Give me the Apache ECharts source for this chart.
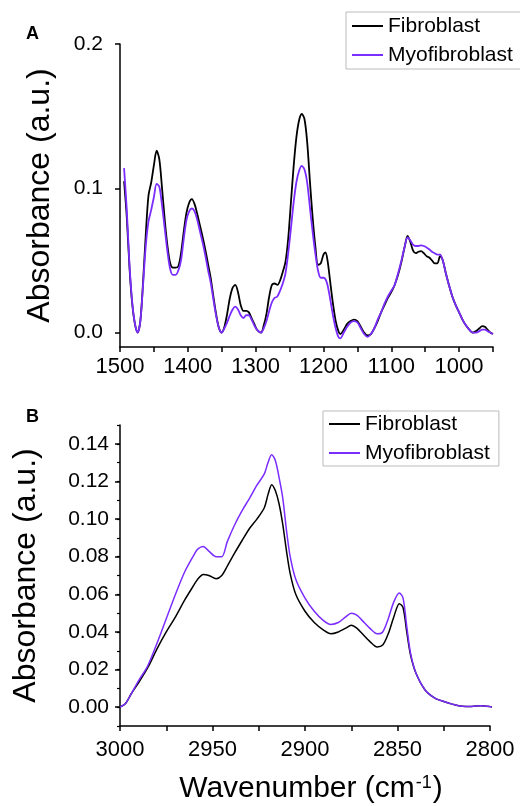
<!DOCTYPE html>
<html>
<head>
<meta charset="utf-8">
<script src="https://cdn.jsdelivr.net/npm/echarts@6/dist/echarts.min.js"></script>
<style>
  html, body { margin: 0; padding: 0; background: #fff; }
  #chart { width: 520px; height: 806px; }
</style>
</head>
<body>
<div id="chart"></div>
<script>
// panel A: fingerprint region
var wavenumberA = [1494, 1490, 1486, 1482, 1478, 1474, 1470, 1466, 1462, 1458, 1454, 1450, 1446, 1442, 1438, 1434, 1430, 1426, 1422, 1418, 1414, 1410, 1406, 1402, 1398, 1394, 1390, 1386, 1382, 1378, 1374, 1370, 1366, 1362, 1358, 1354, 1350, 1346, 1342, 1338, 1334, 1330, 1326, 1322, 1318, 1314, 1310, 1306, 1302, 1298, 1292, 1288, 1284, 1280, 1276, 1272, 1268, 1264, 1260, 1256, 1252, 1248, 1244, 1240, 1236, 1232, 1228, 1224, 1220, 1216, 1212, 1208, 1204, 1200, 1197, 1194, 1190, 1186, 1182, 1178, 1175, 1170, 1165, 1160, 1155, 1150, 1145, 1140, 1135, 1130, 1125, 1120, 1115, 1110, 1105, 1100, 1095, 1090, 1085, 1080, 1076, 1072, 1068, 1064, 1060, 1056, 1052, 1048, 1044, 1040, 1036, 1032, 1028, 1024, 1020, 1015, 1010, 1005, 1000, 995, 990, 985, 980, 975, 970, 966, 962, 958, 954, 950];
var fibroA = [0.105, 0.080, 0.045, 0.020, 0.006, 0.000, 0.008, 0.035, 0.068, 0.095, 0.104, 0.116, 0.126, 0.120, 0.100, 0.078, 0.060, 0.048, 0.045, 0.045, 0.046, 0.055, 0.070, 0.083, 0.090, 0.0925, 0.089, 0.082, 0.074, 0.066, 0.057, 0.047, 0.037, 0.024, 0.012, 0.003, 0.000, 0.004, 0.013, 0.024, 0.031, 0.033, 0.028, 0.019, 0.015, 0.015, 0.014, 0.010, 0.006, 0.002, 0.000, 0.005, 0.013, 0.025, 0.033, 0.034, 0.033, 0.036, 0.042, 0.049, 0.065, 0.090, 0.115, 0.135, 0.147, 0.1515, 0.148, 0.132, 0.105, 0.080, 0.060, 0.047, 0.048, 0.054, 0.0555, 0.050, 0.035, 0.020, 0.008, 0.001, -0.001, 0.002, 0.006, 0.008, 0.009, 0.008, 0.004, 0.000, -0.002, -0.001, 0.003, 0.008, 0.014, 0.019, 0.024, 0.028, 0.033, 0.040, 0.049, 0.060, 0.067, 0.063, 0.057, 0.055, 0.056, 0.0565, 0.055, 0.053, 0.052, 0.050, 0.048, 0.048, 0.053, 0.050, 0.042, 0.033, 0.025, 0.019, 0.014, 0.009, 0.005, 0.002, 0.000, 0.001, 0.003, 0.0044, 0.004, 0.002, 0.000, -0.001];
var myoA = [0.114, 0.085, 0.047, 0.021, 0.006, 0.000, 0.008, 0.033, 0.060, 0.077, 0.085, 0.094, 0.103, 0.101, 0.088, 0.072, 0.056, 0.044, 0.040, 0.040, 0.043, 0.050, 0.065, 0.078, 0.084, 0.086, 0.084, 0.078, 0.070, 0.062, 0.053, 0.043, 0.034, 0.022, 0.011, 0.003, 0.000, 0.003, 0.007, 0.012, 0.016, 0.018, 0.016, 0.012, 0.010, 0.012, 0.012, 0.009, 0.005, 0.002, 0.000, 0.003, 0.008, 0.015, 0.021, 0.024, 0.025, 0.029, 0.034, 0.041, 0.055, 0.072, 0.090, 0.104, 0.112, 0.1155, 0.113, 0.104, 0.087, 0.070, 0.055, 0.043, 0.038, 0.038, 0.037, 0.033, 0.023, 0.012, 0.003, -0.003, -0.004, 0.000, 0.004, 0.007, 0.008, 0.007, 0.003, -0.001, -0.003, -0.001, 0.003, 0.009, 0.014, 0.020, 0.025, 0.029, 0.033, 0.041, 0.050, 0.060, 0.066, 0.064, 0.061, 0.060, 0.060, 0.0605, 0.060, 0.059, 0.0577, 0.056, 0.055, 0.054, 0.054, 0.050, 0.042, 0.033, 0.025, 0.019, 0.014, 0.009, 0.005, 0.002, 0.000, 0.000, 0.001, 0.002, 0.002, 0.001, 0.000, -0.001];

// panel B: C-H stretching region
var wavenumberB = [3000, 2997, 2994, 2990, 2985, 2980, 2975, 2970, 2965, 2960, 2958, 2955, 2952, 2948, 2945, 2942, 2938, 2934, 2930, 2926, 2922, 2920, 2918, 2916, 2914, 2912, 2910, 2908, 2905, 2900, 2895, 2890, 2886, 2882, 2878, 2875, 2872, 2869, 2865, 2861, 2858, 2855, 2852, 2849, 2847, 2845, 2843, 2840, 2835, 2830, 2825, 2820, 2815, 2810, 2805, 2800, 2797];
var fibroB = [0, 0.002, 0.007, 0.013, 0.021, 0.031, 0.040, 0.048, 0.057, 0.065, 0.068, 0.0705, 0.070, 0.0683, 0.070, 0.075, 0.082, 0.0886, 0.095, 0.100, 0.106, 0.113, 0.1183, 0.115, 0.108, 0.097, 0.083, 0.071, 0.060, 0.051, 0.045, 0.041, 0.039, 0.040, 0.042, 0.0435, 0.042, 0.039, 0.035, 0.032, 0.033, 0.039, 0.048, 0.055, 0.053, 0.040, 0.028, 0.018, 0.009, 0.005, 0.003, 0.0015, 0.0005, 0.0004, 0.0008, 0.0003, -0.0003];
var myoB = [0, 0.002, 0.007, 0.014, 0.022, 0.034, 0.047, 0.060, 0.072, 0.081, 0.084, 0.0854, 0.083, 0.080, 0.080, 0.088, 0.097, 0.1045, 0.111, 0.118, 0.124, 0.130, 0.1342, 0.131, 0.122, 0.111, 0.094, 0.080, 0.068, 0.058, 0.051, 0.046, 0.044, 0.045, 0.048, 0.050, 0.049, 0.046, 0.042, 0.039, 0.040, 0.047, 0.056, 0.0607, 0.058, 0.043, 0.029, 0.018, 0.009, 0.005, 0.003, 0.0015, 0.0005, 0.0004, 0.0008, 0.0003, -0.0003];

var ticksAy = [0, 0.1, 0.2];
var ticksBy = [0, 0.02, 0.04, 0.06, 0.08, 0.10, 0.12, 0.14];
var seriesNames = ['Fibroblast', 'Myofibroblast'];

var FONT = 'Liberation Sans, Arial, sans-serif';
var BLACK = '#000000';
var PURPLE = '#7b2cff';

function pairs(xs, ys) {
    return xs.map(function (x, i) { return [x, ys[i]]; });
}

var axisLine = { onZero: false, lineStyle: { color: '#000', width: 1.5 } };
var axisTick = { inside: false, length: 5, lineStyle: { color: '#000', width: 1.5 } };

var chart = echarts.init(document.getElementById('chart'), null, { renderer: 'canvas' });

chart.setOption({
    backgroundColor: '#fff',
    animation: false,
    graphic: [
        { type: 'text', left: 26, top: 25, style: { text: 'A', fontFamily: FONT, fontWeight: 'bold', fontSize: 18, fill: '#000' } },
        { type: 'text', left: 26, top: 408, style: { text: 'B', fontFamily: FONT, fontWeight: 'bold', fontSize: 18, fill: '#000' } }
    ],
    legend: [
        {
            data: seriesNames, orient: 'vertical', left: 346, top: 12,
            padding: [2, 12, 2, 6], itemGap: 5, itemWidth: 31, itemHeight: 2, icon: 'rect',
            borderColor: '#bbb', borderWidth: 1,
            textStyle: { fontFamily: FONT, fontSize: 21, color: '#000', lineHeight: 24 }
        },
        {
            data: seriesNames, orient: 'vertical', left: 323, top: 411,
            padding: [1, 9, 1, 6], itemGap: 5, itemWidth: 31, itemHeight: 2, icon: 'rect',
            borderColor: '#bbb', borderWidth: 1,
            textStyle: { fontFamily: FONT, fontSize: 21, color: '#000', lineHeight: 24 }
        }
    ],
    grid: [
        { left: 120, top: 44, width: 373, height: 303, outerBoundsMode: 'none' },
        { left: 120, top: 425, width: 370, height: 301, outerBoundsMode: 'none' }
    ],
    xAxis: [
        {
            type: 'value', gridIndex: 0, inverse: true, min: 950, max: 1500, interval: 50,
            axisLine: axisLine, axisTick: axisTick, splitLine: { show: false },
            axisLabel: {
                margin: 9, fontFamily: FONT, fontSize: 22, color: '#000',
                formatter: function (v) { return v % 100 === 0 ? String(v) : ''; }
            }
        },
        {
            type: 'value', gridIndex: 1, inverse: true, min: 2800, max: 3000, interval: 25,
            axisLine: axisLine, axisTick: axisTick, splitLine: { show: false },
            axisLabel: {
                margin: 13, fontFamily: FONT, fontSize: 22, color: '#000',
                formatter: function (v) { return v % 50 === 0 ? String(v) : ''; }
            },
            name: 'Wavenumber (cm{sup|-1})', nameLocation: 'middle', nameGap: 48,
            nameTextStyle: {
                fontFamily: FONT, fontSize: 30, color: '#000', padding: [0, 0, 0, 12],
                rich: { sup: { fontFamily: FONT, fontSize: 18, verticalAlign: 'top', lineHeight: 18, padding: [0, 1, 14, 1] } }
            }
        }
    ],
    yAxis: [
        {
            type: 'value', gridIndex: 0, min: -0.01, max: 0.2,
            axisLine: axisLine, axisTick: Object.assign({ customValues: ticksAy }, axisTick), splitLine: { show: false },
            axisLabel: {
                customValues: ticksAy, margin: 17, fontFamily: FONT, fontSize: 21, color: '#000',
                formatter: function (v) { return v.toFixed(1); }
            },
            name: 'Absorbance (a.u.)', nameLocation: 'middle', nameGap: 64, nameRotate: 90,
            nameTextStyle: { fontFamily: FONT, fontSize: 32, color: '#000' }
        },
        {
            type: 'value', gridIndex: 1, min: -0.01, max: 0.15,
            axisLine: axisLine, axisTick: Object.assign({ customValues: ticksBy }, axisTick), splitLine: { show: false },
            axisLabel: {
                customValues: ticksBy, margin: 11, fontFamily: FONT, fontSize: 21, color: '#000',
                formatter: function (v) { return v.toFixed(2); }
            },
            name: 'Absorbance (a.u.)', nameLocation: 'middle', nameGap: 78, nameRotate: 90,
            nameTextStyle: { fontFamily: FONT, fontSize: 32, color: '#000' }
        },
        {
            // minor ticks for panel B
            type: 'value', gridIndex: 1, position: 'left', min: -0.01, max: 0.15, interval: 0.01,
            axisLine: { show: false }, splitLine: { show: false }, axisLabel: { show: false },
            axisTick: { inside: false, length: 3, lineStyle: { color: '#000', width: 1.2 } }
        }
    ],
    series: [
        {
            name: 'Fibroblast', type: 'line', xAxisIndex: 0, yAxisIndex: 0,
            data: pairs(wavenumberA, fibroA), showSymbol: false, smooth: 0.3,
            lineStyle: { color: BLACK, width: 1.8 }, itemStyle: { color: BLACK }
        },
        {
            name: 'Myofibroblast', type: 'line', xAxisIndex: 0, yAxisIndex: 0,
            data: pairs(wavenumberA, myoA), showSymbol: false, smooth: 0.3,
            lineStyle: { color: PURPLE, width: 1.8 }, itemStyle: { color: PURPLE }
        },
        {
            name: 'Fibroblast', type: 'line', xAxisIndex: 1, yAxisIndex: 1, clip: false,
            data: pairs(wavenumberB, fibroB), showSymbol: false, smooth: 0.3,
            lineStyle: { color: BLACK, width: 1.5 }, itemStyle: { color: BLACK }
        },
        {
            name: 'Myofibroblast', type: 'line', xAxisIndex: 1, yAxisIndex: 1, clip: false,
            data: pairs(wavenumberB, myoB), showSymbol: false, smooth: 0.3,
            lineStyle: { color: PURPLE, width: 1.5 }, itemStyle: { color: PURPLE }
        }
    ]
});
</script>
</body>
</html>
